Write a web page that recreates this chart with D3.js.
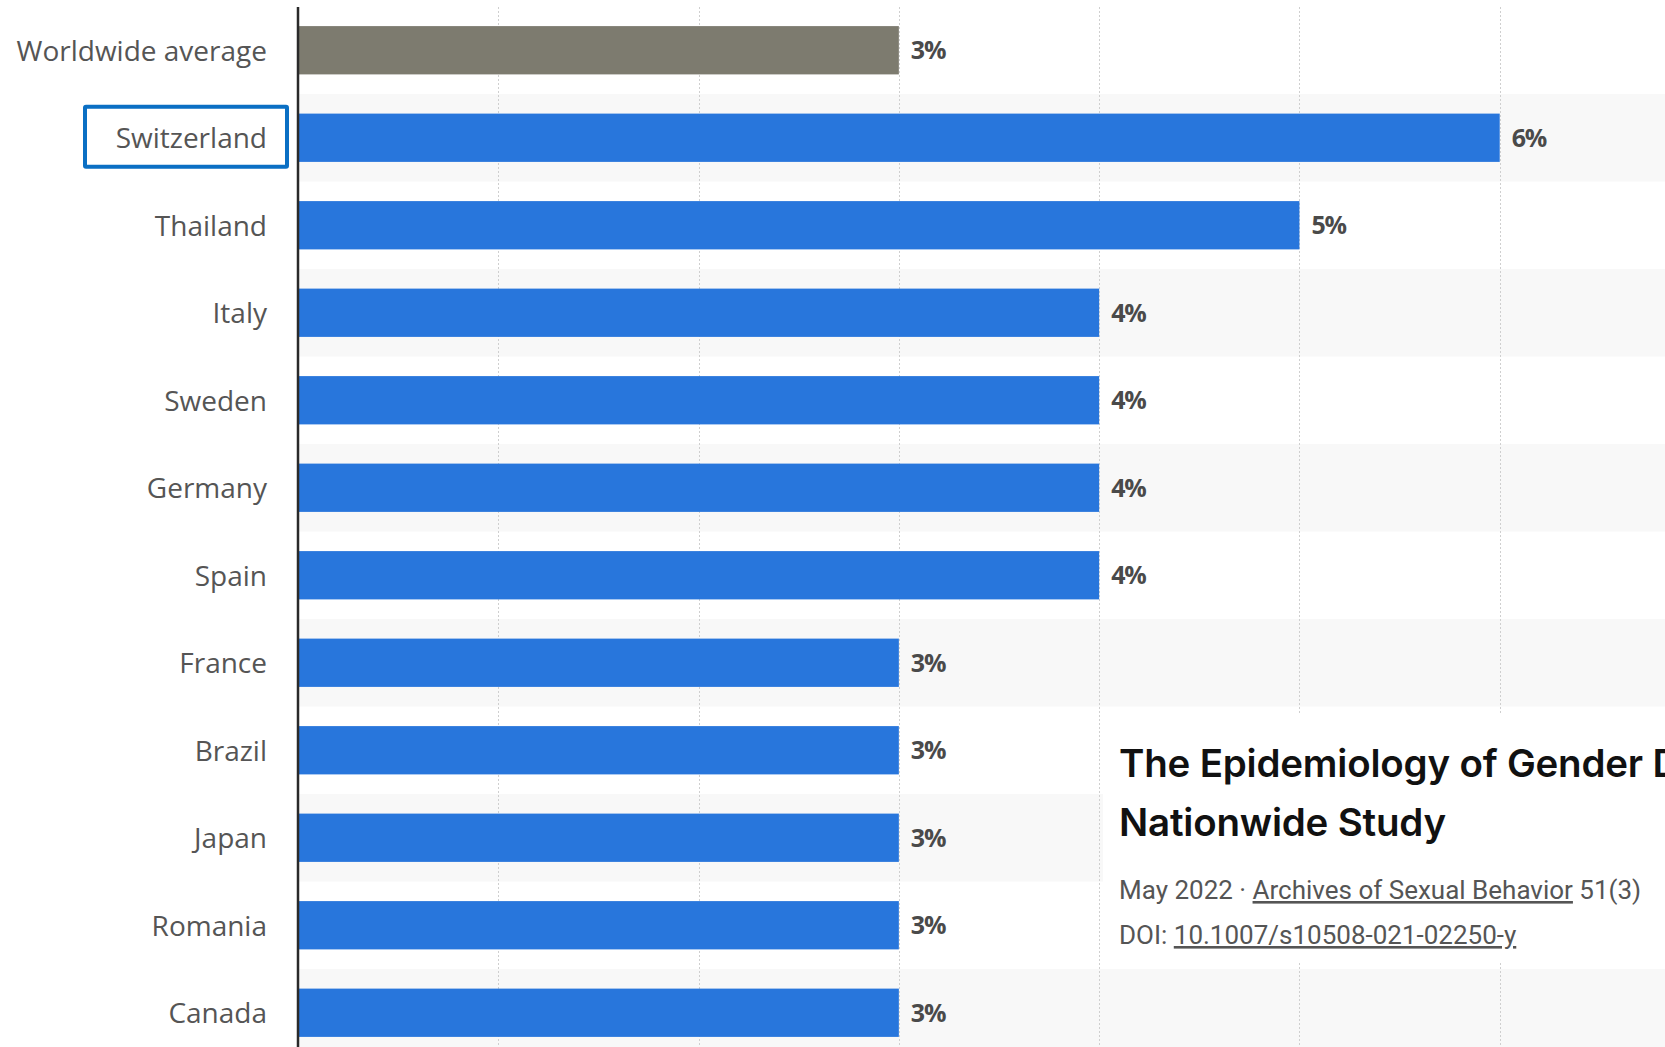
<!DOCTYPE html>
<html>
<head>
<meta charset="utf-8">
<script src="https://cdn.jsdelivr.net/npm/d3@7/dist/d3.min.js"></script>
<style>
  html, body { margin: 0; padding: 0; background: #ffffff; overflow: hidden; }
  svg { display: block; }
</style>
</head>
<body>
<svg id="chart" width="1665" height="1047"></svg>
<script>
// ---- data ----
const categories = ["Worldwide average", "Switzerland", "Thailand", "Italy", "Sweden", "Germany",
                    "Spain", "France", "Brazil", "Japan", "Romania", "Canada"];
const values = [3, 6, 5, 4, 4, 4, 4, 3, 3, 3, 3, 3];
const gridTicks = [1, 2, 3, 4, 5, 6];
const averageCategory = "Worldwide average";
const highlightedCategory = "Switzerland";
const cardTitleLines = ["The Epidemiology of Gender D", "Nationwide Study"];
const cardDate = "May 2022 · ";
const cardJournal = "Archives of Sexual Behavior";
const cardIssue = " 51(3)";
const cardDoiPrefix = "DOI: ";
const cardDoi = "10.1007/s10508-021-02250-y";

// ---- layout ----
const W = 1665, H = 1047;
const svg = d3.select("#chart");

const x = d3.scaleLinear().domain([0, 7]).range([298, 1700]);
const y = d3.scaleBand().domain(categories).range([6.5, 1056.5])
  .paddingInner(0.448).paddingOuter(0.224);
const step = y.step();

// alternating row bands
svg.append("g").selectAll("rect")
  .data(categories.filter((d, i) => i % 2 === 1))
  .join("rect")
  .attr("x", x(0))
  .attr("width", W - x(0))
  .attr("y", d => y(d) + y.bandwidth() / 2 - step / 2)
  .attr("height", step)
  .attr("fill", "#f8f8f8");

// grid lines
svg.append("g").selectAll("line")
  .data(gridTicks)
  .join("line")
  .attr("x1", d => Math.round(x(d)) + 0.5)
  .attr("x2", d => Math.round(x(d)) + 0.5)
  .attr("y1", 7)
  .attr("y2", H)
  .attr("stroke", "#cfcfcf")
  .attr("stroke-width", 1)
  .attr("stroke-dasharray", "2,2");

// bars
svg.append("g").selectAll("rect")
  .data(categories)
  .join("rect")
  .attr("x", x(0))
  .attr("y", d => y(d))
  .attr("height", y.bandwidth())
  .attr("width", (d, i) => x(values[i]) - x(0))
  .attr("fill", d => d === averageCategory ? "#7d7b6f" : "#2876dc");

// value labels
svg.append("g").selectAll("text")
  .data(categories)
  .join("text")
  .attr("x", (d, i) => x(values[i]) + 12)
  .attr("y", d => y(d) + y.bandwidth() / 2)
  .attr("dy", "0.36em")
  .attr("font-family", "'Open Sans', sans-serif")
  .attr("font-weight", 700)
  .attr("font-size", 25)
  .attr("letter-spacing", -1.2)
  .attr("fill", "#4a4a4a")
  .text((d, i) => values[i] + "%");

// category axis
const yAxis = d3.axisLeft(y).tickSize(0).tickPadding(31);
const ax = svg.append("g").attr("transform", `translate(${x(0)},0)`).call(yAxis);
ax.select(".domain").remove();
ax.selectAll("text")
  .attr("font-family", "'Open Sans', sans-serif")
  .attr("font-size", 28)
  .attr("fill", "#555555")
  .attr("dy", "0.37em");

// axis line
svg.append("line")
  .attr("x1", x(0)).attr("x2", x(0))
  .attr("y1", 7).attr("y2", H)
  .attr("stroke", "#2a2a2a")
  .attr("stroke-width", 2.5);

// highlight box around the highlighted category label
const hy = y(highlightedCategory) + y.bandwidth() / 2;
svg.append("rect")
  .attr("x", 85).attr("y", hy - 31)
  .attr("width", 202).attr("height", 60)
  .attr("fill", "none")
  .attr("stroke", "#0a6fc4")
  .attr("stroke-width", 4)
  .attr("rx", 1);

// overlay card
const card = svg.append("g");
card.append("rect")
  .attr("x", 1103).attr("y", 713)
  .attr("width", W - 1103).attr("height", 250)
  .attr("fill", "#ffffff");

card.selectAll("text.title")
  .data(cardTitleLines)
  .join("text")
  .attr("class", "title")
  .attr("x", 1119)
  .attr("y", (d, i) => 777 + i * 59)
  .attr("font-family", "Inter, sans-serif")
  .attr("font-weight", 600)
  .attr("font-size", 38.5)
  .attr("letter-spacing", -0.2)
  .attr("fill", "#111111")
  .text(d => d);

const meta = card.append("text")
  .attr("x", 1119).attr("y", 899)
  .attr("font-family", "Roboto, sans-serif")
  .attr("font-size", 26)
  .attr("fill", "#555555");
meta.append("tspan").text(cardDate);
meta.append("tspan").attr("text-decoration", "underline").text(cardJournal);
meta.append("tspan").text(cardIssue);

const doi = card.append("text")
  .attr("x", 1119).attr("y", 944)
  .attr("font-family", "Roboto, sans-serif")
  .attr("font-size", 26)
  .attr("fill", "#555555");
doi.append("tspan").text(cardDoiPrefix);
doi.append("tspan").attr("text-decoration", "underline").text(cardDoi);
</script>
</body>
</html>
